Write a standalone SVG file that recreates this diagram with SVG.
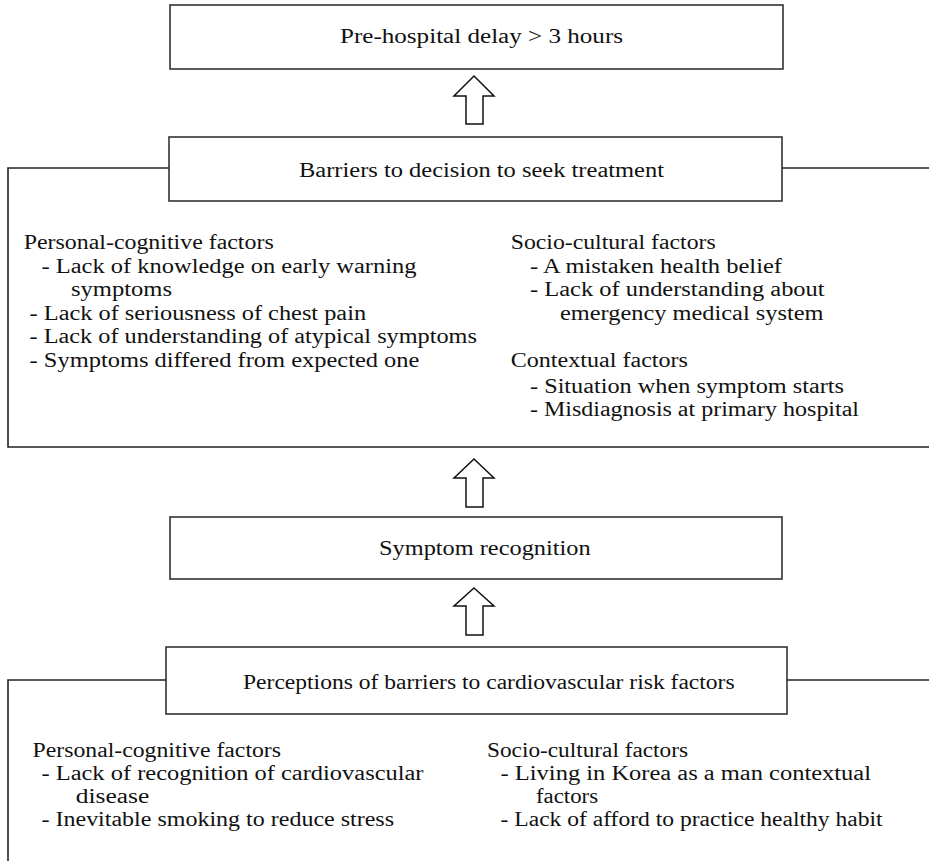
<svg xmlns="http://www.w3.org/2000/svg" width="929" height="861" viewBox="0 0 929 861">
<style>
.box{fill:#fff;stroke:#333;stroke-width:1.6}
.frame{fill:none;stroke:#222;stroke-width:1.6}
.arrow{fill:#fff;stroke:#111;stroke-width:1.5;stroke-linejoin:miter}
text{font-family:"Liberation Serif","Times New Roman",serif;font-size:20.5px;fill:#111}
</style>
<rect width="929" height="861" fill="#fff"/>
<g id="connectors">
<polygon class="arrow" points="474,76 494,96 483,96 483,124 466,124 466,96 454,96"/>
<polygon class="arrow" points="474,459 494,478 483,478 483,507 466,507 466,478 454,478"/>
<polygon class="arrow" points="474,588 494,606 483,606 483,635 466,635 466,606 454,606"/>
</g>
<g id="delay">
<rect class="box" x="170" y="5" width="613" height="64"/>
<text x="340" y="43" textLength="283" lengthAdjust="spacingAndGlyphs">Pre-hospital delay &gt; 3 hours</text>
</g>
<g id="barriers">
<path class="frame" d="M169,168 H8 V447 H929 M782,168 H929"/>
<rect class="box" x="169" y="137" width="613" height="64"/>
<text x="299" y="177" textLength="365" lengthAdjust="spacingAndGlyphs">Barriers to decision to seek treatment</text>
<text x="23.7" y="249" textLength="250" lengthAdjust="spacingAndGlyphs">Personal-cognitive factors</text>
<text x="41.5" y="272.5" textLength="375" lengthAdjust="spacingAndGlyphs">- Lack of knowledge on early warning</text>
<text x="71" y="296" textLength="101" lengthAdjust="spacingAndGlyphs">symptoms</text>
<text x="29.6" y="319.5" textLength="336.5" lengthAdjust="spacingAndGlyphs">- Lack of seriousness of chest pain</text>
<text x="29.6" y="343" textLength="447.3" lengthAdjust="spacingAndGlyphs">- Lack of understanding of atypical symptoms</text>
<text x="29.6" y="366.5" textLength="389.8" lengthAdjust="spacingAndGlyphs">- Symptoms differed from expected one</text>
<text x="510.7" y="249" textLength="205" lengthAdjust="spacingAndGlyphs">Socio-cultural factors</text>
<text x="530" y="272.5" textLength="252" lengthAdjust="spacingAndGlyphs">- A mistaken health belief</text>
<text x="530" y="296" textLength="294.6" lengthAdjust="spacingAndGlyphs">- Lack of understanding about</text>
<text x="560" y="319.5" textLength="263.5" lengthAdjust="spacingAndGlyphs">emergency medical system</text>
<text x="510.7" y="366.5" textLength="177.3" lengthAdjust="spacingAndGlyphs">Contextual factors</text>
<text x="530" y="393" textLength="314" lengthAdjust="spacingAndGlyphs">- Situation when symptom starts</text>
<text x="530" y="415.5" textLength="329" lengthAdjust="spacingAndGlyphs">- Misdiagnosis at primary hospital</text>
</g>
<g id="symptom">
<rect class="box" x="170" y="517" width="612" height="62"/>
<text x="379" y="555" textLength="211.6" lengthAdjust="spacingAndGlyphs">Symptom recognition</text>
</g>
<g id="perceptions">
<path class="frame" d="M166,680 H8 V861 M787,680 H929"/>
<rect class="box" x="166" y="647" width="621" height="67"/>
<text x="243" y="689" textLength="491.6" lengthAdjust="spacingAndGlyphs">Perceptions of barriers to cardiovascular risk factors</text>
<text x="32.6" y="757" textLength="248.4" lengthAdjust="spacingAndGlyphs">Personal-cognitive factors</text>
<text x="41.5" y="780" textLength="382" lengthAdjust="spacingAndGlyphs">- Lack of recognition of cardiovascular</text>
<text x="75.8" y="803" textLength="73.5" lengthAdjust="spacingAndGlyphs">disease</text>
<text x="41.5" y="826" textLength="352.5" lengthAdjust="spacingAndGlyphs">- Inevitable smoking to reduce stress</text>
<text x="487" y="757" textLength="201" lengthAdjust="spacingAndGlyphs">Socio-cultural factors</text>
<text x="500.6" y="780" textLength="370.4" lengthAdjust="spacingAndGlyphs">- Living in Korea as a man contextual</text>
<text x="536" y="803" textLength="62" lengthAdjust="spacingAndGlyphs">factors</text>
<text x="500.6" y="826" textLength="382" lengthAdjust="spacingAndGlyphs">- Lack of afford to practice healthy habit</text>
</g>
</svg>
